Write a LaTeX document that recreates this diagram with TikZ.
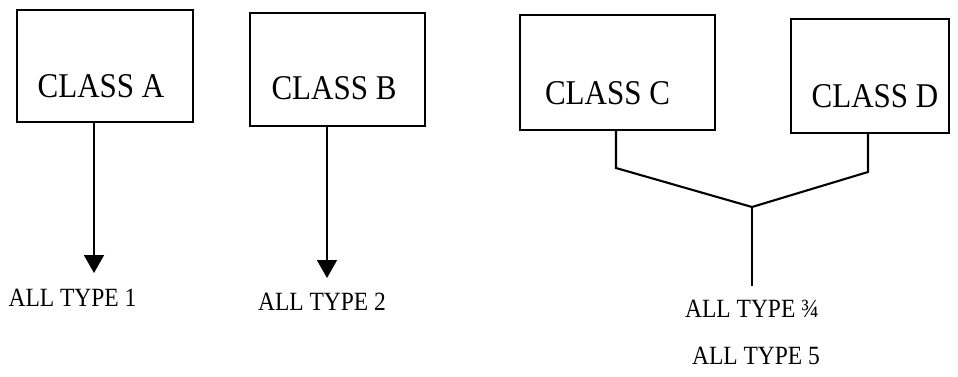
\documentclass[tikz,border=0pt]{standalone}
\usepackage{fontspec}
\usepackage{graphicx}
\setmainfont{Liberation Serif}
\usetikzlibrary{arrows.meta}
\newcommand{\tallt}[1]{\scalebox{1}[1.12]{#1}}
\begin{document}
\begin{tikzpicture}[x=1pt,y=-1pt,
  cbox/.style={draw, line width=1.7pt, inner sep=0pt},
  ctext/.style={font=\fontsize{31}{31}\selectfont, inner sep=0pt},
  ltext/.style={font=\fontsize{23.5}{24}\selectfont, inner sep=0pt},
  conn/.style={line width=2.1pt},
  arr/.style={line width=1.7pt, -{Triangle[width=20pt,length=18pt]}}]
\useasboundingbox (0,0) rectangle (958,377);
% boxes
\node[cbox, minimum width=176pt, minimum height=112pt] (A) at (105,66) {};
\node[cbox, minimum width=175pt, minimum height=113pt] (B) at (337.5,69.5) {};
\node[cbox, minimum width=195pt, minimum height=115pt] (C) at (617.5,72.5) {};
\node[cbox, minimum width=158pt, minimum height=114pt] (D) at (870,76) {};
% box texts
\node[ctext] (tA) at (101,86) {\tallt{CLASS A}};
\node[ctext] (tB) at (334,88) {\tallt{CLASS B}};
\node[ctext] (tC) at (607.5,93) {\tallt{CLASS C}};
\node[ctext] (tD) at (875,96) {\tallt{CLASS D}};
% labels
\node[ltext] (l1) at (72.5,298) {\tallt{ALL TYPE 1}};
\node[ltext] (l2) at (322,302) {\tallt{ALL TYPE 2}};
\node[ltext] (l34) at (752,309) {\tallt{ALL TYPE ¾}};
\node[ltext] (l5) at (756,356) {\tallt{ALL TYPE 5}};
% arrows
\coordinate (a1) at (94,273);
\coordinate (b1) at (327,278);
\draw[arr] (A.south -| a1) -- (a1);
\draw[arr] (B.south -| b1) -- (b1);
% join
\coordinate (j) at (752,207);
\coordinate (cj) at (616,168);
\coordinate (dj) at (868,172);
\coordinate (e) at (752,286);
\draw[conn, line join=miter] (C.south -| cj) -- (cj) -- (j) -- (dj) -- (D.south -| dj);
\draw[conn] (j) -- (e);
\end{tikzpicture}
\end{document}
